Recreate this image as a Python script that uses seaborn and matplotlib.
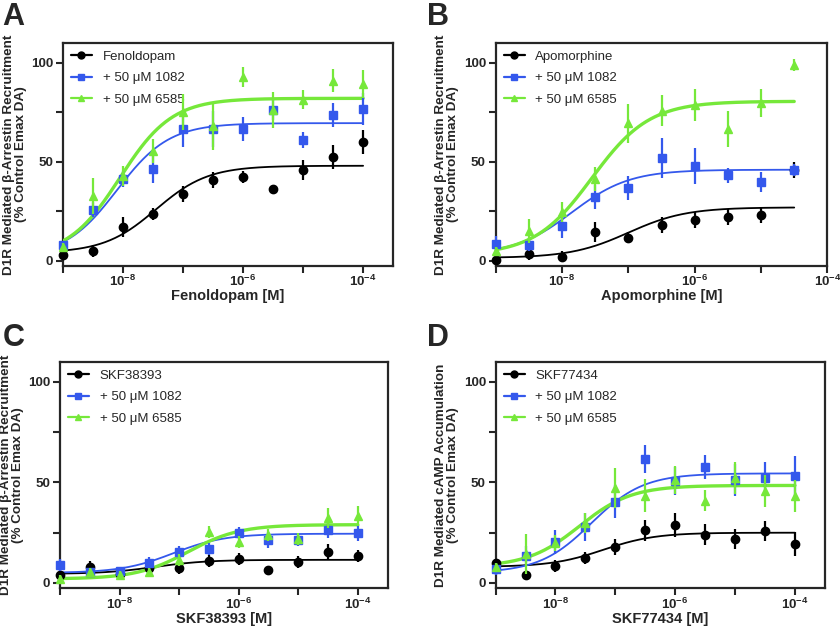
import numpy as np
import pandas as pd
import seaborn as sns
import matplotlib.pyplot as plt
from matplotlib.lines import Line2D

# log10 molar doses
log_dose = [-9, -8.5, -8, -7.5, -7, -6.5, -6, -5.5, -5, -4.5, -4]

# Panel A - Fenoldopam
a_ctrl = [3, 5, 17, 23.7, 33.8, 40.6, 42.3, 36.4, 45.9, 52.5, 60]
a_ctrl_err = [2, 3, 5, 3, 4, 4, 3, 2, 5, 6, 6]
a_1082 = [8.1, 25.9, 41.5, 46.5, 66.5, 66.5, 66.5, 76.1, 61.1, 73.6, 76.6]
a_1082_err = [2, 4, 4, 7, 9, 9, 6, 5, 4, 6, 8]
a_6585 = [7, 32.7, 42.8, 55.5, 75, 68, 92.7, 76, 81.4, 91, 89.3]
a_6585_err = [2, 9, 5, 6, 9, 12, 5, 9, 5, 6, 7]

# Panel B - Apomorphine (no 1e-4 point)
b_ctrl = [0.5, 3.4, 2.2, 14.5, 11.8, 18.3, 20.8, 22, 23, 45.9]
b_ctrl_err = [2, 3, 3, 5, 3, 4, 4, 4, 4, 4]
b_1082 = [8.6, 8.1, 17.8, 32.1, 36.7, 51.8, 47.9, 43.1, 39.8, 46]
b_1082_err = [4, 3, 6, 6, 6, 10, 9, 4, 5, 3]
b_6585 = [5, 14.9, 24.7, 41.5, 69.4, 75.8, 78.7, 66.5, 79.7, 98.6]
b_6585_err = [2, 6, 5, 6, 10, 8, 8, 9, 7, 3]

# Panel C - SKF38393
c_ctrl = [3.9, 8.1, 4.4, 7.6, 7.3, 11, 11.8, 6.4, 10.6, 15.2, 13.2]
c_ctrl_err = [2, 3, 2, 3, 3, 3, 3, 2, 3, 4, 3]
c_1082 = [8.9, 5.6, 6, 9.9, 15.3, 16.7, 24.8, 21.4, 21.4, 26.5, 24.8]
c_1082_err = [3, 2, 2, 3, 3, 3, 3, 4, 3, 4, 4]
c_6585 = [2, 5.6, 4, 5.2, 11.6, 25.5, 20.4, 24, 22, 32.2, 33.5]
c_6585_err = [2, 2, 2, 2, 3, 3, 3, 3, 3, 5, 5]

# Panel D - SKF77434
d_ctrl = [9.8, 3.9, 8.4, 12.6, 18, 26.1, 29, 24.1, 21.9, 25.8, 19.4]
d_ctrl_err = [2, 2, 3, 3, 4, 5, 6, 5, 5, 5, 6]
d_1082 = [7.1, 13.2, 20.2, 27.8, 40.5, 61.6, 50.9, 57.7, 51.4, 52.3, 53.1]
d_1082_err = [3, 5, 6, 7, 8, 7, 7, 6, 8, 8, 10]
d_6585 = [8, 14.3, 20, 30, 47.2, 43.5, 51, 41, 52, 45.7, 43.2]
d_6585_err = [2, 10, 4, 5, 10, 8, 7, 5, 8, 8, 8]

# fitted curves: (bottom, top, logEC50)
a_fits = [(4, 48, -7.45), (2, 69.5, -8.1), (2, 82, -8.05)]
b_fits = [(1.5, 27, -7.0), (3, 46, -7.85), (3, 80.5, -7.55)]
c_fits = [(4.5, 11.5, -7.4), (5, 24.5, -7.1), (2, 29, -6.85)]
d_fits = [(8, 25, -7.2), (5, 54.5, -7.4), (8, 48.5, -7.6)]

agonists = ["Fenoldopam", "Apomorphine", "SKF38393", "SKF77434"]
series_names = ["", "+ 50 \u03bcM 1082", "+ 50 \u03bcM 6585"]
panel_letters = ["A", "B", "C", "D"]
ylabels = ["D1R Mediated \u03b2-Arrestin Recruitment\n(% Control Emax DA)",
           "D1R Mediated \u03b2-Arrestin Recruitment\n(% Control Emax DA)",
           "D1R Mediated \u03b2-Arrestin Recruitment\n(% Control Emax DA)",
           "D1R Mediated cAMP Accumulation\n(% Control Emax DA)"]

colors = ["black", "#3458ec", "#76e83a"]
markers = ["o", "s", "^"]

sns.set_theme(style="ticks")
plt.rcParams['font.family'] = ['Liberation Sans', 'DejaVu Sans']
plt.rcParams['mathtext.fontset'] = 'custom'
plt.rcParams['mathtext.rm'] = 'Liberation Sans'
plt.rcParams['mathtext.bf'] = 'Liberation Sans:bold'

fig = plt.figure(figsize=(8.4, 6.3), dpi=100)
positions = [[0.075, 0.578, 0.393, 0.354],
             [0.590, 0.578, 0.395, 0.354],
             [0.0714, 0.0667, 0.390, 0.359],
             [0.590, 0.0667, 0.392, 0.359]]
letter_pos = [(0.003, 0.997), (0.508, 0.997), (0.003, 0.487), (0.508, 0.487)]

panels = [
    (a_ctrl, a_ctrl_err, a_1082, a_1082_err, a_6585, a_6585_err, a_fits),
    (b_ctrl, b_ctrl_err, b_1082, b_1082_err, b_6585, b_6585_err, b_fits),
    (c_ctrl, c_ctrl_err, c_1082, c_1082_err, c_6585, c_6585_err, c_fits),
    (d_ctrl, d_ctrl_err, d_1082, d_1082_err, d_6585, d_6585_err, d_fits),
]

for i, p in enumerate(panels):
    ax = fig.add_axes(positions[i])
    vals = [p[0], p[2], p[4]]
    errs = [p[1], p[3], p[5]]
    fits = p[6]
    n = len(vals[0])
    doses = 10.0 ** np.array(log_dose[:n])
    handles = []
    for k in range(3):
        bottom, top, ec = fits[k]
        lx = np.linspace(-9, log_dose[n - 1], 300)
        curve = pd.DataFrame({"x": 10.0 ** lx,
                              "y": bottom + (top - bottom) / (1 + 10 ** (ec - lx))})
        sns.lineplot(data=curve, x="x", y="y", ax=ax, color=colors[k],
                     lw=2.4 if k == 2 else 1.3, zorder=2 + k)
        ax.errorbar(doses, vals[k], yerr=errs[k], fmt=markers[k], color=colors[k],
                    ms=6 if k < 2 else 5.5, elinewidth=1.6, capsize=0,
                    zorder=5 + k, clip_on=False)
        lab = agonists[i] if k == 0 else series_names[k]
        handles.append(Line2D([], [], color=colors[k], marker=markers[k],
                              ms=5, lw=1.6, label=lab))
    ax.set_xscale("log")
    if i == 1:
        ax.set_xlim(1e-9, 1e-4)
    else:
        ax.set_xlim(1e-9, 10 ** -3.5)
    ax.set_ylim(-2.5, 110)
    ax.set_xticks([1e-9, 1e-8, 1e-7, 1e-6, 1e-5, 1e-4])
    ax.set_xticklabels(["", r"$\mathbf{10^{-8}}$", "", r"$\mathbf{10^{-6}}$", "",
                        r"$\mathbf{10^{-4}}$"])
    ax.xaxis.set_minor_locator(plt.NullLocator())
    ax.set_yticks([0, 25, 50, 75, 100])
    ax.set_yticklabels(["0", "", "50", "", "100"])
    ax.tick_params(axis="both", direction="out", length=5, width=1.5,
                   labelsize=9.6, pad=2)
    ax.tick_params(axis="x", pad=1)
    for lbl in ax.get_yticklabels():
        lbl.set_fontweight("bold")
    for sp in ax.spines.values():
        sp.set_linewidth(1.6)
        sp.set_visible(True)
    ax.set_xlabel(agonists[i] + " [M]", fontsize=10.5, fontweight="bold", labelpad=0)
    ax.set_ylabel(ylabels[i], fontsize=9.7, fontweight="bold", labelpad=3,
                  linespacing=1.0)
    ax.legend(handles=handles, loc="upper left", frameon=False, fontsize=9.5,
              handlelength=1.6, handletextpad=0.8, borderaxespad=0.3,
              borderpad=0.3, labelspacing=0.7)
    fig.text(letter_pos[i][0], letter_pos[i][1], panel_letters[i], fontsize=22,
             fontweight="bold", va="top", ha="left")

fig.savefig("out.png", dpi=100)
